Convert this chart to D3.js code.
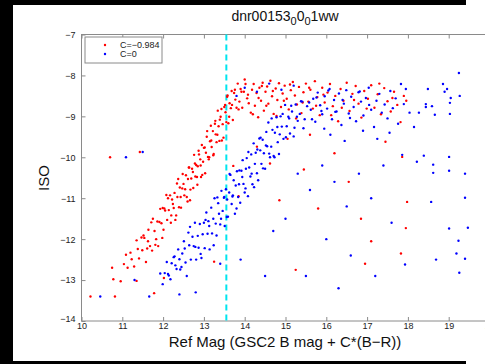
<!DOCTYPE html>
<html><head><meta charset="utf-8">
<script src="https://cdn.jsdelivr.net/npm/d3@7/dist/d3.min.js"></script>
<style>body{margin:0;background:#fff}svg{display:block}</style>
</head><body>
<svg id="c" width="485" height="364"></svg>
<script>
const title = ["dnr00153","0","0","0","1ww"];
const xLabel = "Ref Mag (GSC2 B mag + C*(B\u2212R))";
const yLabel = "ISO";
const xTicks = [10,11,12,13,14,15,16,17,18,19,20];
const yTicks = [-7,-8,-9,-10,-11,-12,-13,-14];
const seriesNames = ["C=\u22120.984","C=0"];
const cutMag = 13.55;

const redPts = [
[10.96,-13.03],[11.04,-12.61],[11.09,-12.38],[11.13,-12.70],[11.20,-12.33],[11.23,-12.49],[11.29,-12.67],[11.35,-12.03],[11.38,-12.24],[11.41,-12.47],
[11.47,-11.96],[11.49,-12.27],[11.54,-11.97],[11.58,-12.56],[11.63,-12.05],[11.64,-11.77],[11.68,-12.17],[11.73,-12.28],[11.75,-11.50],[11.79,-11.80],
[11.83,-12.00],[11.86,-11.57],[11.88,-12.17],[11.93,-11.26],[11.96,-11.61],[11.99,-11.24],[12.01,-11.77],[12.05,-11.30],[12.08,-10.92],[12.10,-11.53],
[12.14,-11.29],[12.17,-10.93],[12.19,-11.60],[12.22,-11.03],[12.26,-11.24],[12.28,-10.87],[12.30,-11.53],[12.34,-10.64],[12.35,-10.97],[12.39,-11.22],
[12.41,-10.74],[12.44,-11.23],[12.47,-10.76],[12.48,-10.41],[12.52,-10.93],[12.54,-10.78],[12.56,-10.44],[12.60,-11.08],[12.61,-10.53],[12.64,-10.25],
[12.67,-10.79],[12.69,-10.52],[12.71,-10.28],[12.74,-10.75],[12.76,-9.94],[12.79,-10.47],[12.81,-10.19],[12.84,-10.67],[12.85,-10.22],[12.88,-9.93],
[12.91,-10.05],[12.93,-10.48],[12.95,-9.70],[12.98,-10.11],[13.00,-9.77],[13.03,-10.39],[13.05,-9.89],[13.07,-9.50],[13.10,-9.99],[13.12,-10.05],
[13.15,-9.61],[13.17,-9.23],[13.19,-9.75],[13.22,-9.36],[13.24,-9.92],[13.27,-9.18],[13.29,-9.44],[13.31,-9.63],[13.34,-8.86],[13.36,-9.24],
[13.38,-9.60],[13.41,-9.01],[13.43,-8.82],[13.46,-9.19],[13.48,-9.52],[13.50,-8.77],[13.53,-8.90],[13.55,-9.14],[13.58,-8.49],[13.60,-9.17],
[13.63,-8.68],[13.66,-8.80],[13.68,-8.38],[13.71,-9.09],[13.74,-8.43],[13.77,-8.59],[13.80,-8.79],[13.83,-8.20],[13.87,-8.64],[13.90,-8.33],
[13.94,-8.79],[13.98,-8.40],[14.02,-8.21],[14.06,-8.56],
[11.52,-11.91],[11.61,-12.23],[11.71,-11.59],[11.81,-12.14],[11.91,-11.58],[11.98,-11.97],[12.03,-11.25],[12.12,-11.00],[12.20,-11.42],[12.24,-11.14],
[12.32,-11.42],[12.37,-10.53],[12.43,-10.97],[12.50,-10.65],[12.58,-10.97],[12.63,-10.25],[12.66,-11.05],[12.73,-10.36],[12.78,-10.15],[12.83,-10.48],
[12.87,-9.84],[12.92,-10.20],[12.96,-10.43],[13.02,-9.76],[13.08,-9.36],[13.13,-10.00],[13.18,-9.59],[13.23,-9.95],[13.28,-9.11],[13.33,-9.45],
[13.39,-9.08],[13.44,-9.59],[13.52,-8.72],[13.57,-8.52],[13.62,-9.01],[13.69,-8.72],[13.76,-8.35],[13.85,-8.83],[13.92,-8.40],[14.00,-8.10],
[14.08,-8.47],[14.2,-8.95],[14.34,-8.55],[14.42,-8.26],[14.53,-8.74],[14.69,-8.38],[14.78,-8.99],[14.96,-8.62],[15.11,-8.22],[15.26,-9.05],[15.42,-8.66],[15.58,-8.3],[15.75,-8.74],[15.93,-8.47],[16.12,-8.97],[16.38,-8.79],[16.68,-8.6],[16.99,-8.81],[17.3,-8.2],[17.62,-8.55],
[14.10,-8.68],[14.15,-8.91],[14.18,-8.35],[14.22,-8.21],[14.25,-8.74],[14.29,-8.43],[14.33,-9.02],[14.36,-8.3],[14.4,-8.62],[14.44,-8.18],[14.47,-8.86],[14.51,-8.4],[14.55,-8.27],[14.58,-8.69],
[14.63,-8.13],[14.67,-8.51],[14.71,-8.94],[14.76,-8.32],[14.8,-8.6],[14.84,-8.19],[14.89,-8.77],[14.93,-8.44],[14.98,-8.25],[15.03,-8.57],[15.08,-8.83],[15.13,-8.36],[15.18,-8.16],
[15.23,-8.49],[15.28,-8.71],[15.33,-8.28],[15.39,-8.92],[15.44,-8.41],[15.5,-8.2],[15.56,-8.64],[15.61,-8.35],[15.67,-8.81],[15.72,-8.14],[15.78,-8.53],[15.84,-8.97],[15.9,-8.3],[15.96,-8.66],
[16.03,-8.42],[16.09,-8.21],[16.16,-8.75],[16.22,-8.5],[16.29,-9.12],[16.35,-8.33],[16.42,-8.62],[16.5,-8.18],[16.57,-8.87],[16.64,-8.45],[16.72,-8.26],[16.79,-8.69],[16.86,-9.03],[16.93,-8.38],
[17.02,-8.57],[17.1,-8.24],[17.18,-8.79],[17.26,-8.46],[17.34,-8.95],[17.42,-8.31],[17.5,-8.63],[17.58,-8.88],[17.66,-8.4],[17.74,-8.72],[17.82,-9.14],[17.9,-8.5],[17.96,-8.62],
[17.86,-9.99],[17.98,-11.09],[17.95,-11.73],[17.83,-12.35],[10.22,-13.40],[10.82,-13.40],[11.78,-13.32],[10.70,-10.0],[11.43,-9.87],[10.75,-12.70],[10.78,-12.98],[13.72,-10.21],[13.85,-10.95],[14.3,-9.74],[14.62,-10.15],[15.05,-9.55],[15.45,-10.3],[16.2,-9.9],[16.55,-10.6],[15.8,-11.25],[16.85,-11.5],[17.1,-12.05],[15.25,-12.75],[16.95,-12.6],[13.25,-12.55],[14.85,-11.05],[12.02,-12.95],[11.35,-13.02],[17.45,-9.62],[15.6,-9.45]
];

const bluePts = [
[10.46,-13.40],[11.66,-13.40],[11.09,-10.0],[11.5,-9.87],
[11.93,-12.84],[11.99,-13.10],[12.04,-12.83],[12.09,-12.56],[12.12,-12.85],[12.18,-12.98],[12.21,-12.59],[12.26,-12.44],[12.30,-12.64],[12.33,-12.73],
[12.37,-12.25],[12.40,-12.49],[12.45,-12.68],[12.47,-12.35],[12.51,-12.05],[12.55,-12.57],[12.58,-12.90],[12.62,-11.84],[12.64,-12.15],[12.68,-12.50],
[12.72,-11.94],[12.75,-12.17],[12.78,-11.60],[12.81,-12.50],[12.85,-11.92],[12.87,-12.21],[12.90,-11.63],[12.94,-12.46],[12.97,-11.88],[13.00,-11.60],
[13.02,-12.22],[13.06,-11.35],[13.09,-11.87],[13.11,-11.56],[13.14,-12.25],[13.18,-11.23],[13.20,-11.86],[13.23,-11.50],[13.26,-11.00],[13.29,-11.62],
[13.31,-11.91],[13.35,-11.12],[13.37,-11.38],[13.40,-11.64],[13.43,-10.82],[13.46,-11.31],[13.49,-10.99],[13.51,-11.68],[13.54,-10.78],[13.57,-11.03],
[13.59,-11.45],[13.62,-10.86],[13.65,-10.43],[13.68,-11.14],[13.70,-10.96],[13.73,-10.56],[13.76,-11.38],[13.78,-10.69],[13.81,-10.34],[13.84,-10.97],
[13.86,-10.66],[13.89,-11.11],[13.92,-10.33],[13.95,-10.07],[13.97,-10.65],[14.00,-10.86],[14.03,-10.28],[14.05,-10.02],[14.08,-10.95],[14.11,-10.25],
[14.14,-10.47],[14.16,-9.93],[14.19,-10.66],[14.22,-9.66],[14.25,-10.16],[14.27,-9.89],[14.30,-10.39],[14.33,-10.56],[14.36,-9.54],[14.38,-9.83],
[14.41,-10.16],[14.44,-9.57],[14.47,-9.90],[14.50,-10.28],[14.53,-9.38],[14.55,-9.73],[14.58,-9.15],[14.62,-10.00],[14.65,-9.74],[14.68,-9.33],
[14.71,-9.97],[14.74,-9.40],[14.78,-9.02],[14.81,-9.63],[14.84,-9.92],[14.88,-9.00],[14.91,-9.25],[14.95,-9.55],[14.99,-8.72],[15.03,-9.24],
[15.07,-9.01],[15.11,-9.42],[15.16,-8.88],[15.20,-9.49],[15.25,-8.71],[15.30,-9.11],[15.35,-8.94],[15.41,-8.64],[15.47,-9.07],[15.53,-8.75],
[12.14,-12.89],[12.28,-12.42],[12.42,-12.74],[12.53,-12.23],[12.66,-11.70],[12.79,-12.19],[12.92,-12.36],[13.04,-11.53],[13.13,-11.68],[13.24,-12.15],
[13.33,-10.98],[13.42,-11.50],[13.50,-10.97],[13.56,-11.46],[13.63,-10.41],[13.71,-10.93],[13.80,-11.25],[13.87,-10.32],[13.94,-10.48],[14.02,-10.76],
[14.09,-9.87],[14.17,-10.40],[14.23,-10.73],[14.31,-9.81],[14.39,-9.52],[14.45,-10.27],[14.52,-9.71],[14.60,-9.91],[14.66,-9.05],[14.73,-10.00],
[14.80,-9.26],[14.86,-9.44],[14.93,-8.94],[15.01,-9.51],[15.09,-9.05],[15.14,-8.74],[15.22,-9.28],[15.28,-9.01],[15.38,-8.63],[15.44,-9.29],
[15.58,-8.66],[15.65,-9.07],[15.76,-8.54],[15.88,-8.87],[16.05,-8.37],[16.22,-8.89],[16.40,-8.60],[16.58,-9.04],[16.82,-8.39],[17.05,-8.72],
[16.1,-9.45],[16.45,-9.6],[16.9,-9.35],[17.25,-9.55],[17.55,-9.4],[15.95,-9.3],
[15.62,-8.84],[15.68,-8.57],[15.73,-9.13],[15.79,-8.42],[15.85,-8.73],[15.9,-8.95],[15.96,-8.51],[16.02,-8.81],[16.08,-8.33],[16.14,-9.07],[16.19,-8.6],[16.25,-8.88],[16.31,-8.44],[16.37,-9.21],[16.43,-8.69],[16.49,-8.36],[16.55,-8.93],[16.61,-8.52],[16.67,-8.77],[16.73,-9.12],[16.79,-8.41],[16.85,-8.64],[16.91,-8.98],[16.97,-8.55],[17.04,-8.3],[17.1,-8.84],[17.17,-9.26],[17.23,-8.62],[17.3,-8.45],[17.36,-8.91],[17.43,-8.71],[17.5,-9.05],[17.57,-8.38],[17.63,-8.8],[17.7,-8.56],[17.76,-9.18],
[17.83,-8.21],[17.95,-8.33],[18.49,-8.33],[18.86,-8.21],[18.96,-8.33],[19.25,-7.94],[18.90,-8.40],[19.05,-8.55],[19.27,-8.5],[17.9,-8.70],[18.04,-8.91],[18.44,-8.70],[18.44,-8.77],[18.59,-8.75],[18.27,-8.91],[18.66,-8.96],[19.03,-8.67],[19.03,-8.94],[18.15,-9.26],[17.86,-9.94],[18.39,-9.96],[18.22,-10.11],[18.62,-10.18],[19.01,-9.99],[18.62,-10.38],[19.01,-10.33],[19.40,-10.40],[18.57,-11.09],[19.40,-10.99],[19.01,-11.74],[19.47,-11.72],[19.24,-12.04],[19.19,-12.35],[19.40,-12.48],[17.93,-12.62],[18.69,-12.50],[19.26,-12.82],
[14.0,-8.3],[14.3,-8.4],[14.6,-8.2],[14.9,-8.35],[15.2,-8.25],[13.8,-8.5],[15.3,-10.4],[15.6,-10.8],[15.9,-10.2],[16.2,-10.6],[16.5,-11.2],[16.8,-10.4],[17.1,-11.0],[17.4,-10.2],[17.6,-11.6],[16.0,-12.0],[16.6,-12.4],[15.5,-12.9],[17.2,-12.9],[15.0,-11.5],[14.7,-11.8],[13.9,-12.5],[13.4,-12.6],[12.8,-13.3],[11.3,-13.0],[14.5,-12.9],[16.3,-13.2],[12.4,-13.35]
];

const svg = d3.select("#c");
const font = "'Liberation Sans', Arial, sans-serif";
svg.append("rect").attr("x",0).attr("y",0).attr("width",466).attr("height",5).attr("fill","#000");
svg.append("rect").attr("x",0).attr("y",361).attr("width",466).attr("height",3).attr("fill","#000");
svg.append("rect").attr("x",0).attr("y",0).attr("width",13).attr("height",364).attr("fill","#000");

const x = d3.scaleLinear().domain([10,20]).range([81.5,489.5]);
const y = d3.scaleLinear().domain([-14,-7]).range([321,34.5]);

const g = svg.append("g");
const axisColor = "#8a8a8a";
g.append("rect").attr("x",x(10)).attr("y",y(-7)).attr("width",x(20)-x(10)).attr("height",y(-14)-y(-7))
 .attr("fill","none").attr("stroke",axisColor).attr("stroke-width",1);

const xb = g.append("g").attr("transform",`translate(0,${y(-14)})`)
  .call(d3.axisBottom(x).tickValues(xTicks).tickSize(-4).tickPadding(2).tickFormat(d3.format("d")));
const xt = g.append("g").attr("transform",`translate(0,${y(-7)})`)
  .call(d3.axisTop(x).tickValues(xTicks).tickSize(-4).tickFormat(""));
const yl = g.append("g").attr("transform",`translate(${x(10)},0)`)
  .call(d3.axisLeft(y).tickValues(yTicks).tickSize(-4).tickPadding(6).tickFormat(d=>d3.format("d")(d).replace("-","\u2212")));
[xb,xt,yl].forEach(a=>{
  a.select(".domain").remove();
  a.selectAll(".tick line").attr("stroke",axisColor);
  a.selectAll(".tick text").attr("font-family",font).attr("font-size",9).attr("fill","#222");
});
yl.selectAll(".tick text").filter(d=>d===-14).attr("dy","0.1em");

g.append("line").attr("x1",x(cutMag)).attr("x2",x(cutMag)).attr("y1",y(-7)).attr("y2",y(-14))
 .attr("stroke","#00e5ee").attr("stroke-width",2).attr("stroke-dasharray","6,4");

const pts = g.append("g");
pts.selectAll("circle.r").data(redPts).join("circle").attr("class","r")
  .attr("cx",d=>x(d[0])).attr("cy",d=>y(d[1])).attr("r",1.2).attr("fill","#ff0000");
pts.selectAll("circle.b").data(bluePts).join("circle").attr("class","b")
  .attr("cx",d=>x(d[0])).attr("cy",d=>y(d[1])).attr("r",1.2).attr("fill","#0000ff");

const lg = g.append("g");
lg.append("rect").attr("x",85).attr("y",37).attr("width",77).attr("height",26)
  .attr("fill","#fff").attr("stroke",axisColor).attr("stroke-width",1);
const colors = ["#ff0000","#0000ff"];
seriesNames.forEach((n,i)=>{
  lg.append("circle").attr("cx",105).attr("cy",45+i*9).attr("r",1.2).attr("fill",colors[i]);
  lg.append("text").attr("x",120).attr("y",48+i*9).attr("font-family",font).attr("font-size",9).attr("fill","#222").text(n);
});

const t = svg.append("text").attr("x",285).attr("y",21).attr("text-anchor","middle")
  .attr("font-family",font).attr("font-size",14).attr("fill","#111");
t.append("tspan").text(title[0]);
t.append("tspan").attr("dy",4).attr("font-size",11).text(title[1]);
t.append("tspan").attr("dy",-4).text(title[2]);
t.append("tspan").attr("dy",4).attr("font-size",11).text(title[3]);
t.append("tspan").attr("dy",-4).text(title[4]);

svg.append("text").attr("x",285).attr("y",347).attr("text-anchor","middle")
  .attr("font-family",font).attr("font-size",15).attr("fill","#111").text(xLabel);
svg.append("text").attr("transform","translate(49,178) rotate(-90)").attr("text-anchor","middle")
  .attr("font-family",font).attr("font-size",15).attr("fill","#111").text(yLabel);
</script>
</body></html>
